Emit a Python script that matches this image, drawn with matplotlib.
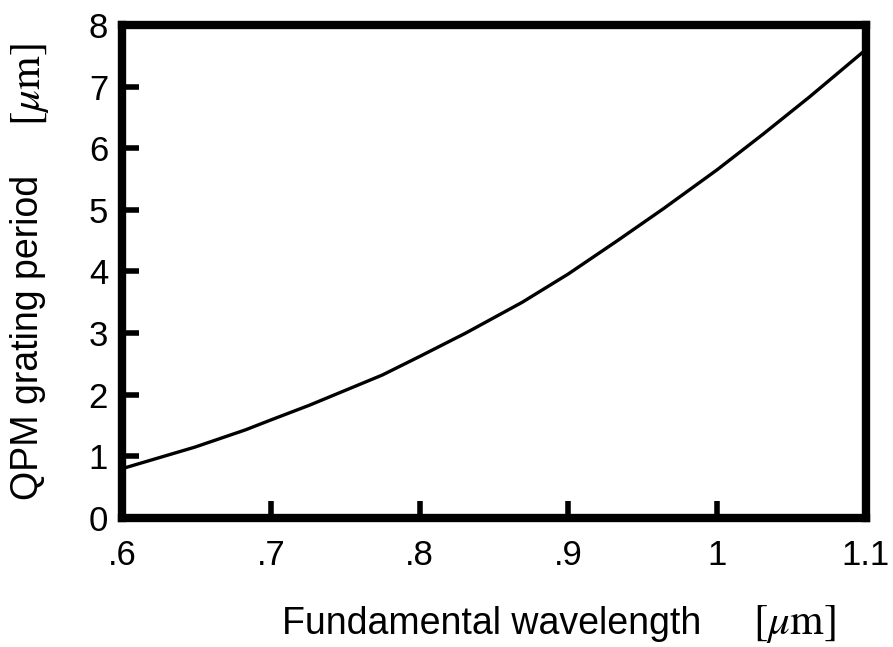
import numpy as np
import matplotlib.pyplot as plt

plt.rcParams['font.family'] = ['Liberation Sans', 'DejaVu Sans']
plt.rcParams['mathtext.fontset'] = 'stix'

# wavelength [um] vs QPM grating period [um]
wavelength = [0.600, 0.649, 0.683, 0.700, 0.726, 0.748, 0.775, 0.800, 0.831,
              0.869, 0.900, 0.933, 0.964, 1.000, 1.031, 1.062, 1.100]
period = [0.80, 1.15, 1.43, 1.59, 1.83, 2.05, 2.32, 2.62, 3.00,
          3.50, 3.96, 4.50, 5.02, 5.65, 6.23, 6.83, 7.60]

xticks = [0.6, 0.7, 0.8, 0.9, 1.0, 1.1]
xticklabels = ['.6', '.7', '.8', '.9', '1', '1.1']
yticks = [0, 1, 2, 3, 4, 5, 6, 7, 8]

fig = plt.figure(figsize=(8.93, 6.47), dpi=100)
ax = fig.add_axes([0.1366, 0.1994, 0.833, 0.762])

ax.plot(wavelength, period, color='black', lw=2.4, solid_joinstyle='round')

ax.set_xlim(0.6, 1.1)
ax.set_ylim(0, 8)
ax.set_xticks(xticks)
ax.set_xticklabels(xticklabels)
ax.set_yticks(yticks)

for s in ax.spines.values():
    s.set_linewidth(6)
ax.tick_params(direction='in', length=12, width=4, labelsize=25)
ax.tick_params(axis='x', pad=15)
ax.tick_params(axis='y', pad=10)

# axis titles, the unit part is set in a serif face like the original
fig.text(0.316, 0.020, 'Fundamental wavelength', fontsize=27, ha='left', va='baseline')
fig.text(0.843, 0.020, r'$[\mu\mathrm{m}]$', fontsize=31, ha='left', va='baseline')
fig.text(0.011, 0.227, 'QPM grating period', fontsize=27, rotation=90, ha='left', va='bottom')
fig.text(0.010, 0.805, r'$[\mu\mathrm{m}]$', fontsize=31, rotation=90, ha='left', va='bottom')

fig.savefig('out.png', dpi=100)
